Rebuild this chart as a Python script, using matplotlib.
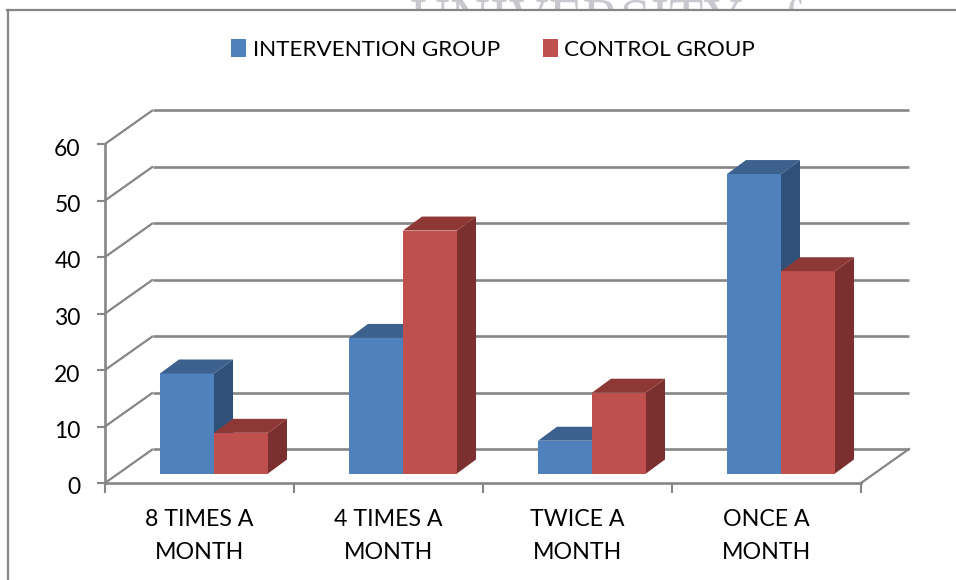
import matplotlib
matplotlib.use("Agg")
import matplotlib.pyplot as plt
from matplotlib.lines import Line2D
from matplotlib.patches import Polygon, Patch, Rectangle
from matplotlib.transforms import Affine2D

plt.rcParams['font.family'] = ['Lato', 'DejaVu Sans']

categories = ["8 TIMES A\nMONTH", "4 TIMES A\nMONTH", "TWICE A\nMONTH", "ONCE A\nMONTH"]
intervention = [17.7, 24, 5.8, 53]
control = [7.2, 43, 14.3, 35.8]
yticks = [0, 10, 20, 30, 40, 50, 60]

W, H = 956, 580
fig = plt.figure(figsize=(W / 100, H / 100), dpi=100, facecolor="white")
L, R, T, B = 105, 861, 144, 483
ax = fig.add_axes([L / W, 1 - B / H, (R - L) / W, (B - T) / H])
ax.set_xlim(0, 4)
ax.set_ylim(0, 60)
ax.patch.set_visible(False)

PX = 4 / (R - L)      # data units per pixel, x
PY = 60 / (B - T)     # data units per pixel, y
WALL_X, WALL_Y = 48 * PX, 34 * PY
GRID = "#868686"

# left wall diagonals and back wall gridlines
for v in yticks:
    ax.plot([0, WALL_X], [v, v + WALL_Y], color=GRID, lw=1.6, clip_on=False, zorder=1,
            solid_capstyle="butt")
    ax.plot([WALL_X, 4 + WALL_X], [v + WALL_Y, v + WALL_Y], color=GRID, lw=1.9, clip_on=False,
            zorder=1, solid_capstyle="butt")
ax.plot([4, 4 + WALL_X], [0, WALL_Y], color=GRID, lw=1.6, clip_on=False, zorder=1)

# bars
BAR_W = 54 * PX
BASE = 9.5 * PY
SHIFT = 14.5 * PX
DX, DY = 19 * PX, 14 * PY


def bar3d(xc, vals, face, top, side, z):
    ax.bar(xc, vals, width=BAR_W, bottom=BASE, color=face, align="edge", zorder=z, clip_on=False)
    for x, v in zip(xc, vals):
        y = BASE + v
        ax.add_patch(Polygon([(x + BAR_W, BASE), (x + BAR_W + DX, BASE + DY),
                              (x + BAR_W + DX, y + DY), (x + BAR_W, y)],
                             closed=True, fc=side, ec="none", zorder=z, clip_on=False))
        ax.add_patch(Polygon([(x, y), (x + DX, y + DY), (x + BAR_W + DX, y + DY), (x + BAR_W, y)],
                             closed=True, fc=top, ec="none", zorder=z, clip_on=False))


pos = [i + 0.5 + SHIFT for i in range(len(categories))]
bar3d([p - BAR_W for p in pos], intervention, "#4F81BD", "#3C618F", "#2F5179", 3)
bar3d(pos, control, "#C0504D", "#8E3836", "#7B2F2E", 4)

# axes
for s in ("top", "right"):
    ax.spines[s].set_visible(False)
for s in ("left", "bottom"):
    ax.spines[s].set_color(GRID)
    ax.spines[s].set_linewidth(1.9)
    ax.spines[s].set_zorder(5)
ax.set_yticks(yticks)
ax.set_xticks(range(5))
ax.set_xticklabels([])
ax.set_xticks([i + 0.5 for i in range(4)], minor=True)
ax.set_xticklabels(categories, minor=True, fontsize=16.7, color="#000000", linespacing=1.68)
ax.tick_params(axis="x", which="major", length=7.5, width=1.5, color=GRID)
ax.tick_params(axis="x", which="minor", length=0, pad=19)
ax.tick_params(axis="y", length=6, width=1.5, color=GRID, labelsize=16.5, pad=11.5)
for lab in ax.get_yticklabels():
    lab.set_transform(lab.get_transform() + Affine2D().translate(0, -3))

# legend
handles = [Patch(fc="#4F81BD", ec="none", label="INTERVENTION GROUP"),
           Patch(fc="#C0504D", ec="none", label="CONTROL GROUP")]
fig.legend(handles=handles, loc="center", bbox_to_anchor=(493 / W, 1 - 49.5 / H), ncol=2,
           frameon=False, fontsize=16.2, handlelength=0.667, handleheight=0.8,
           handletextpad=0.27, columnspacing=1.9, borderpad=0, borderaxespad=0)

# watermark cut by the chart frame, and the frame
wm = fig.text(606 / W, 1 - 38 / H, "UNIVERSITY of", ha="center", va="baseline",
              fontsize=40, family="Liberation Serif", color="#C8C8CE", zorder=0)
wm.set_clip_path(Rectangle((0, H - 9), W, 9, transform=None))
wm.set_clip_on(True)
fig.add_artist(Line2D([7.5 / W, 7.5 / W], [0, 1 - 9.5 / H], color="#868686", lw=1.6))
fig.add_artist(Line2D([7 / W, 1], [1 - 9.5 / H, 1 - 9.5 / H], color="#868686", lw=1.6))

fig.savefig("out.png", dpi=100, facecolor="white")
